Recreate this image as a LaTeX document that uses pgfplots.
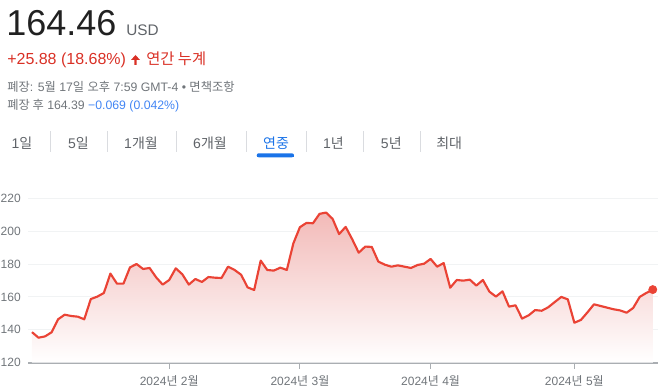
\documentclass[border=0pt]{standalone}
\usepackage{pgfplots}
\usepackage{pgfplotstable}
\pgfplotsset{compat=1.18}
\usepackage{fontspec}
\setmainfont{Liberation Sans}
\newfontfamily\kr{Noto Sans CJK KR}
\definecolor{gred}{HTML}{D93025}
\definecolor{lred}{HTML}{EA4335}
\definecolor{fillred}{RGB}{242,186,184}
\definecolor{ggray}{HTML}{70757A}
\definecolor{tgray}{HTML}{5F6368}
\definecolor{sepgray}{HTML}{DADCE0}
\definecolor{gridgray}{HTML}{F1F3F4}
\definecolor{axgray}{HTML}{AAAEB2}
\definecolor{gblue}{HTML}{1A73E8}
\definecolor{lblue}{RGB}{66,133,244}

\pgfplotstableread{
i v
0 138.58
1 135.2
2 136.0
3 138.5
4 146.4
5 149.2
6 148.4
7 148.0
8 146.4
9 158.7
10 160.2
11 162.4
12 174.2
13 168.1
14 168.1
15 178.0
16 180.0
17 177.0
18 177.6
19 171.9
20 167.5
21 170.3
22 177.4
23 173.8
24 167.5
25 170.9
26 169.1
27 172.1
28 171.7
29 171.5
30 178.4
31 176.4
32 173.5
33 165.8
34 164.2
35 182.1
36 176.4
37 176.0
38 177.8
39 176.4
40 192.6
41 202.4
42 205.0
43 204.8
44 210.5
45 211.3
46 207.5
47 198.2
48 202.6
49 195.1
50 186.9
51 190.6
52 190.4
53 181.5
54 179.6
55 178.4
56 179.2
57 178.4
58 177.6
59 179.4
60 180.2
61 183.1
62 178.4
63 180.6
64 165.6
65 170.3
66 169.9
67 170.5
68 166.9
69 170.3
70 163.2
71 160.2
72 163.4
73 154.1
74 154.9
75 146.8
76 148.8
77 152.0
78 151.6
79 153.7
80 156.9
81 160.0
82 158.5
83 144.3
84 146.0
85 150.6
86 155.5
87 154.5
88 153.5
89 152.5
90 151.8
91 150.4
92 153.3
93 160.0
94 162.4
95 164.46
}\prices

\begin{document}
\begin{tikzpicture}[x=0.75pt,y=0.75pt]
\useasboundingbox (0,0) rectangle (670,389);
% header
\node[anchor=base west,inner sep=0,font=\fontsize{27}{27}\selectfont,text=black!87] at (6,353) {164.46};
\node[anchor=base west,inner sep=0,font=\fontsize{11.5}{12}\selectfont,text=tgray] at (126,353) {USD};
\node[anchor=base west,inner sep=0,font=\fontsize{12}{13}\selectfont,text=gred] at (7,324) {+25.88 (18.68\%)};
\fill[gred] (131,329) -- (135.5,334) -- (140,329) -- (136.6,329) -- (136.6,324) -- (134.4,324) -- (134.4,329) -- cycle;
\node[anchor=base west,inner sep=0,font=\kr\fontsize{11.5}{13}\selectfont,text=gred] at (146,324) {연간 누계};
\node[anchor=base west,inner sep=0,font=\fontsize{9.2}{10}\selectfont,text=ggray] at (7,297.5) {{\kr 폐장}: 5{\kr 월} 17{\kr 일} {\kr 오후} 7:59 GMT-4 • {\kr 면책조항}};
\node[anchor=base west,inner sep=0,font=\fontsize{9.2}{10}\selectfont,text=ggray] at (7,279.5) {{\kr 폐장 후} 164.39 \textcolor{lblue}{\char"2212 0.069 (0.042\%)}};
% tabs
\begin{scope}[every node/.style={anchor=base,inner sep=0,font=\fontsize{10.5}{11}\selectfont,text=tgray}]
\node at (22,240.5) {1{\kr 일}};
\node at (78.5,240.5) {5{\kr 일}};
\node at (141,240.5) {1{\kr 개월}};
\node at (210,240.5) {6{\kr 개월}};
\node[text=gblue] at (276,240.5) {{\kr 연중}};
\node at (333.5,240.5) {1{\kr 년}};
\node at (391.3,240.5) {5{\kr 년}};
\node at (449.2,240.5) {{\kr 최대}};
\end{scope}
\foreach \sx in {50,107.3,176,246,306.7,363.3,420}
  \draw[sepgray,line width=0.75pt] (\sx,237) -- (\sx,258);
\fill[gblue,rounded corners=1.5pt] (256.7,231.7) rectangle (294,235.7);
\fill[gblue] (256.7,231.7) rectangle (294,233.5);
% chart
\begin{axis}[
  at={(21pt,19.725pt)}, anchor=south west,
  scale only axis, width=472.5pt, height=125.8pt,
  xmin=-0.61, xmax=95.8, ymin=120, ymax=222,
  axis x line*=bottom, axis y line*=left,
  x axis line style={draw=axgray,line width=1.5pt,-},
  y axis line style={draw=none},
  ytick={120,140,...,220},
  xtick={21,41,61,83},
  xticklabels={{2024{\kr 년} 2{\kr 월}},{2024{\kr 년} 3{\kr 월}},{2024{\kr 년} 4{\kr 월}},{2024{\kr 년} 5{\kr 월}}},
  ymajorgrids, grid style={gridgray,line width=0.75pt},
  ytick style={draw=none},
  xtick style={draw=axgray,line width=0.75pt},
  tick align=outside, major tick length=4.5pt,
  /pgf/number format/assume math mode=true,
  ticklabel style={font=\fontsize{9}{10}\selectfont,text=ggray},
  yticklabel style={inner xsep=0.75pt},
  xticklabel style={yshift=-2pt},
  clip=false,
]
\addplot[draw=none,top color=fillred,middle color=fillred!42!white,bottom color=white] table[x=i,y=v] {\prices} -- (axis cs:95,120) -- (axis cs:0,120) -- cycle;
\addplot[lred,line width=1.6pt,line join=round,mark=none] table[x=i,y=v] {\prices};
\addplot[only marks,mark=*,mark size=3.1pt,lred] coordinates {(95,164.46)};
\end{axis}
\end{tikzpicture}
\end{document}
